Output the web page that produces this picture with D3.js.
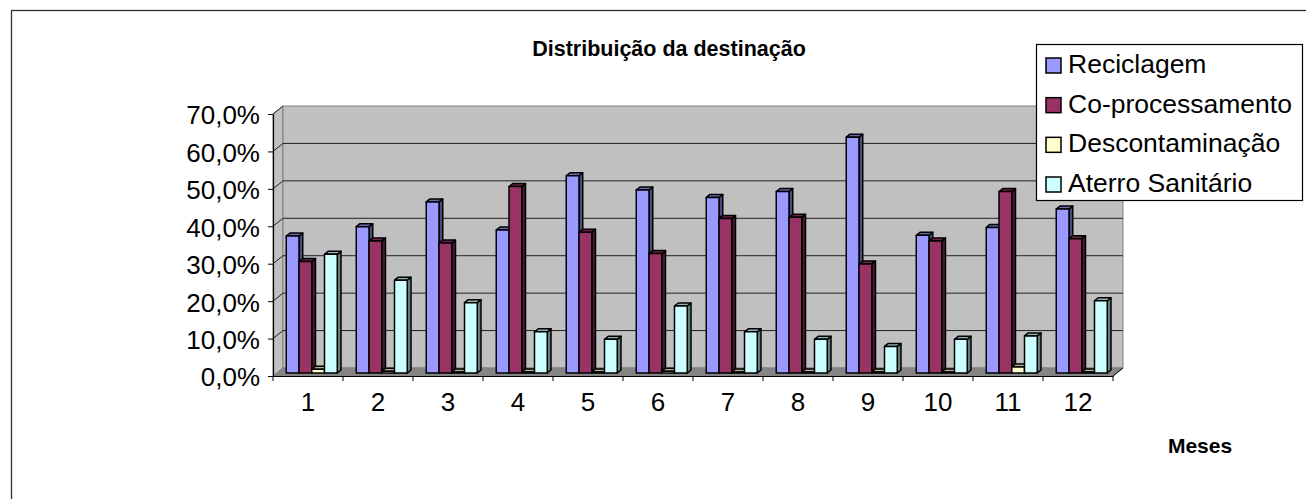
<!DOCTYPE html>
<html>
<head>
<meta charset="utf-8">
<script src="https://cdn.jsdelivr.net/npm/d3@7"></script>
<style>
  html, body { margin: 0; padding: 0; background: #fff; }
  svg { display: block; font-family: Arial, "Liberation Sans", sans-serif; }
</style>
</head>
<body>
<svg id="chart" width="1306" height="499"></svg>
<script>
// Monthly share of each destination (percent)
const categories = ["1", "2", "3", "4", "5", "6", "7", "8", "9", "10", "11", "12"];
const seriesNames = ["Reciclagem", "Co-processamento", "Descontaminação", "Aterro Sanitário"];
const reciclagem      = [36.6, 39.1, 45.7, 38.2, 52.7, 48.9, 46.9, 48.5, 63.0, 36.8, 38.9, 43.8];
const coprocessamento = [29.8, 35.3, 34.7, 49.8, 37.6, 31.9, 41.3, 41.6, 29.1, 35.3, 48.5, 35.9];
const descontaminacao = [1.0, 0.5, 0.3, 0.3, 0.3, 0.5, 0.3, 0.3, 0.3, 0.3, 1.6, 0.3];
const aterroSanitario = [31.7, 24.8, 18.8, 11.0, 9.0, 17.9, 11.0, 9.0, 7.1, 9.0, 9.9, 19.3];
const seriesColors = ["#9999FF", "#993366", "#FFFFCC", "#CCFFFF"];
const yTicks = [0, 10, 20, 30, 40, 50, 60, 70];
const chartTitle = "Distribuição da destinação";
const xTitle = "Meses";

const seriesValues = [reciclagem, coprocessamento, descontaminacao, aterroSanitario];

const svg = d3.select("#chart");

// Outer chart frame
svg.append("rect")
  .attr("x", 11.5).attr("y", 10.5)
  .attr("width", 1310).attr("height", 510)
  .attr("fill", "#fff").attr("stroke", "#333").attr("stroke-width", 1.3);

// Scales (front plane) and depth offset of the 3D box
const x0 = d3.scaleBand().domain(categories).range([273, 1113]);
const x1 = d3.scaleBand().domain(seriesNames).range([9.5, 60.5]);
const y = d3.scaleLinear().domain([0, 70]).range([376, 114]);
const DX = 10, DY = -8;
const proj = (px, v, d) => [px + d * DX, y(v) + d * DY];
const poly = pts => pts.map(p => p.join(",")).join(" ");

const [xMin, xMax] = x0.range();
const vMax = d3.max(yTicks);

// Side wall
svg.append("polygon")
  .attr("points", poly([proj(xMin, 0, 0), proj(xMin, vMax, 0), proj(xMin, vMax, 1), proj(xMin, 0, 1)]))
  .attr("fill", "#c0c0c0").attr("stroke", "#808080").attr("stroke-width", 1);

// Back wall
svg.append("polygon")
  .attr("points", poly([proj(xMin, 0, 1), proj(xMin, vMax, 1), proj(xMax, vMax, 1), proj(xMax, 0, 1)]))
  .attr("fill", "#c0c0c0").attr("stroke", "#808080").attr("stroke-width", 1);

// Floor
svg.append("polygon")
  .attr("points", poly([proj(xMin, 0, 0), proj(xMax, 0, 0), proj(xMax, 0, 1), proj(xMin, 0, 1)]))
  .attr("fill", "#858585").attr("stroke", "#808080").attr("stroke-width", 1);

// Gridlines on side and back walls
const grid = svg.append("g").attr("stroke", "#222").attr("stroke-width", 1).attr("fill", "none");
yTicks.filter(v => v > 0 && v < vMax).forEach(v => {
  grid.append("polyline")
    .attr("points", poly([proj(xMin, v, 0), proj(xMin, v, 1), proj(xMax, v, 1)]));
});
grid.append("line")
  .attr("x1", proj(xMin, vMax, 0)[0]).attr("y1", proj(xMin, vMax, 0)[1])
  .attr("x2", proj(xMin, vMax, 1)[0]).attr("y2", proj(xMin, vMax, 1)[1]);

// Bars: front face, top and right side, drawn left to right
const F1 = 0.375, F2 = 0.75;
const bars = svg.append("g").attr("stroke", "#000").attr("stroke-width", 1.5).attr("stroke-linejoin", "round");
categories.forEach((cat, i) => {
  seriesNames.forEach((name, s) => {
    const v = seriesValues[s][i];
    const c = d3.color(seriesColors[s]);
    const xl = x0(cat) + x1(name);
    const xr = xl + x1.bandwidth();
    const g = bars.append("g");
    g.append("polygon")
      .attr("points", poly([proj(xr, 0, F1), proj(xr, 0, F2), proj(xr, v, F2), proj(xr, v, F1)]))
      .attr("fill", c.darker(2));
    g.append("polygon")
      .attr("points", poly([proj(xl, v, F1), proj(xr, v, F1), proj(xr, v, F2), proj(xl, v, F2)]))
      .attr("fill", c.darker(1));
    g.append("polygon")
      .attr("points", poly([proj(xl, 0, F1), proj(xr, 0, F1), proj(xr, v, F1), proj(xl, v, F1)]))
      .attr("fill", c);
  });
});

// Value axis
const locale = d3.formatLocale({ decimal: ",", thousands: ".", grouping: [3], currency: ["R$", ""] });
const fmt = locale.format(".1f");
const yAxis = svg.append("g")
  .attr("transform", `translate(${xMin},0)`)
  .call(d3.axisLeft(y).tickValues(yTicks).tickSize(5).tickSizeOuter(0).tickPadding(8)
    .tickFormat(v => fmt(v) + "%"));
yAxis.select(".domain").attr("stroke", "#000").attr("stroke-width", 1.2);
yAxis.selectAll(".tick line").attr("stroke", "#000");
yAxis.selectAll("text").attr("font-size", 26).attr("fill", "#000")
  .attr("font-family", "Arial, 'Liberation Sans', sans-serif").attr("dy", "0.38em");

// Category axis: labels centred, ticks on category boundaries
const xAxis = svg.append("g")
  .attr("transform", `translate(0,${y(0)})`)
  .call(d3.axisBottom(x0).tickSize(0).tickPadding(17));
xAxis.select(".domain").attr("stroke", "#000").attr("stroke-width", 1.2);
xAxis.selectAll("text").attr("font-size", 26).attr("fill", "#000")
  .attr("font-family", "Arial, 'Liberation Sans', sans-serif");
const bounds = categories.map(c => x0(c)).concat([xMax]);
svg.append("g").selectAll("line").data(bounds).join("line")
  .attr("x1", d => d).attr("x2", d => d)
  .attr("y1", y(0)).attr("y2", y(0) + 5)
  .attr("stroke", "#000").attr("stroke-width", 1);
// Right edge of floor
svg.append("line")
  .attr("x1", proj(xMax, 0, 0)[0]).attr("y1", proj(xMax, 0, 0)[1])
  .attr("x2", proj(xMax, 0, 1)[0]).attr("y2", proj(xMax, 0, 1)[1])
  .attr("stroke", "#000").attr("stroke-width", 1);

// Titles
svg.append("text")
  .attr("x", 669).attr("y", 56)
  .attr("text-anchor", "middle").attr("font-weight", "bold").attr("font-size", 21.5)
  .text(chartTitle);
svg.append("text")
  .attr("x", 1200).attr("y", 453)
  .attr("text-anchor", "middle").attr("font-weight", "bold").attr("font-size", 21)
  .text(xTitle);

// Legend
const legend = svg.append("g");
legend.append("rect")
  .attr("x", 1036.5).attr("y", 44.5).attr("width", 266).attr("height", 156)
  .attr("fill", "#fff").attr("stroke", "#000").attr("stroke-width", 1.2);
const rowY = d3.scalePoint().domain(seriesNames).range([73, 192]);
seriesNames.forEach((name, s) => {
  legend.append("rect")
    .attr("x", 1046).attr("y", rowY(name) - 15)
    .attr("width", 15).attr("height", 15)
    .attr("fill", seriesColors[s]).attr("stroke", "#000").attr("stroke-width", 1.5);
  legend.append("text")
    .attr("x", 1068).attr("y", rowY(name))
    .attr("font-size", 26.5).attr("fill", "#000")
    .text(name);
});
</script>
</body>
</html>
